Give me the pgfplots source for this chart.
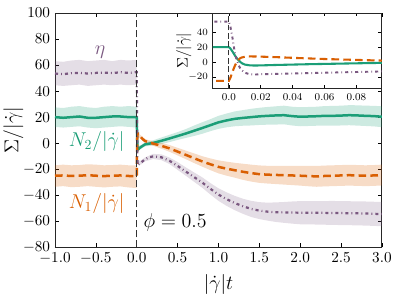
\documentclass[border=0pt]{standalone}
\usepackage{pgfplots}
\usepackage{pgfplotstable}
\pgfplotsset{compat=1.18}
\definecolor{cgreen}{RGB}{27,158,119}
\definecolor{corange}{RGB}{217,95,2}
\definecolor{cpurple}{RGB}{122,88,128}
\definecolor{cvline}{RGB}{50,50,50}

\pgfplotstableread{
t m
-1.0 20.0
-0.9 19.5
-0.8 20.0
-0.7 20.5
-0.6 19.5
-0.5 19.5
-0.4 20.0
-0.3 20.5
-0.2 20.5
-0.1 20.0
-0.01 20.0
0.0 20.0
0.001 18.0
0.002 15.0
0.003 11.5
0.004 8.0
0.005 5.0
0.006 2.5
0.007 0.5
0.008 -1.5
0.010 -3.5
0.013 -4.5
0.016 -4.8
0.02 -4.6
0.03 -4.0
0.04 -3.5
0.05 -3.0
0.06 -2.6
0.07 -2.2
0.08 -1.8
0.09 -1.4
0.10 -1.0
0.15 -0.4
0.2 0.2
0.3 1.8
0.4 3.6
0.5 5.5
0.6 7.4
0.7 9.5
0.8 11.6
0.9 13.8
1.0 16.0
1.1 17.5
1.2 18.7
1.3 19.4
1.4 20.0
1.5 20.6
1.6 21.0
1.7 21.3
1.8 21.5
1.9 20.8
2.0 20.3
2.1 20.5
2.2 20.7
2.3 21.0
2.4 21.0
2.5 21.2
2.6 21.5
2.7 21.3
2.8 21.0
2.9 20.8
3.0 20.3
}\greenline

\pgfplotstableread{
t m
-1.0 -25.0
-0.9 -24.8
-0.8 -25.2
-0.7 -25.0
-0.6 -24.6
-0.5 -25.0
-0.4 -25.3
-0.3 -25.0
-0.2 -24.8
-0.1 -25.2
-0.01 -25.5
0.0 -25.5
0.001 -21
0.002 -15
0.003 -9
0.004 -4
0.005 0
0.006 3
0.007 5
0.008 6
0.010 7
0.013 7.5
0.016 7.4
0.02 7.2
0.03 6.5
0.04 5.6
0.05 4.8
0.06 4.0
0.07 3.4
0.08 2.8
0.09 2.2
0.10 1.7
0.15 0.6
0.2 -0.3
0.3 -2.0
0.4 -4.0
0.5 -6.5
0.6 -9.0
0.7 -11.5
0.8 -14.0
0.9 -16.2
1.0 -18.2
1.1 -19.6
1.2 -20.8
1.3 -22.0
1.4 -23.0
1.5 -23.8
1.6 -24.2
1.7 -24.4
1.8 -24.6
1.9 -24.8
2.0 -25.0
2.1 -25.3
2.2 -25.5
2.3 -25.2
2.4 -25.0
2.5 -24.8
2.6 -24.6
2.7 -24.8
2.8 -25.0
2.9 -24.8
3.0 -24.5
}\orangeline

\pgfplotstableread{
t m
-1.0 53.5
-0.9 53.0
-0.8 53.8
-0.7 54.0
-0.6 53.5
-0.5 54.0
-0.4 54.2
-0.3 53.8
-0.2 54.5
-0.1 54.0
-0.01 54.5
0.0 54.5
0.001 47
0.002 36
0.003 22
0.004 10
0.005 2
0.006 -4
0.007 -8
0.008 -11
0.010 -14.5
0.013 -16.5
0.016 -17
0.02 -16.5
0.03 -16.0
0.04 -15.5
0.05 -15.0
0.06 -14.5
0.07 -14.0
0.08 -13.5
0.09 -13.0
0.10 -12.5
0.15 -10.8
0.2 -10.2
0.3 -10.8
0.4 -13.5
0.5 -17.5
0.6 -21.8
0.7 -26.0
0.8 -30.2
0.9 -35.0
1.0 -39.5
1.1 -43.0
1.2 -46.0
1.3 -48.5
1.4 -50.5
1.5 -51.8
1.6 -52.6
1.7 -53.0
1.8 -53.2
1.9 -53.3
2.0 -53.4
2.2 -53.5
2.4 -53.6
2.6 -53.8
2.8 -54.0
3.0 -54.5
}\purpleline

\tikzset{
  gline/.style={color=cgreen, line width=1.8pt},
  oline/.style={color=corange, line width=1.8pt, dash pattern=on 5.5pt off 3pt},
  pline/.style={color=cpurple, line width=1.6pt, dash pattern=on 2.2pt off 2.2pt on 0.6pt off 2.2pt},
}

\begin{document}
\begin{tikzpicture}
\path[use as bounding box] (0,0) rectangle (286.56pt,214.56pt);
\begin{axis}[
  name=main,
  at={(39.6pt,36.5pt)}, anchor=south west,
  scale only axis, width=235.4pt, height=168.7pt,
  xmin=-1, xmax=3, ymin=-80, ymax=100,
  xtick={-1,-0.5,0,0.5,1,1.5,2,2.5,3},
  ytick={-80,-60,-40,-20,0,20,40,60,80,100},
  xticklabel style={/pgf/number format/.cd, fixed, fixed zerofill, precision=1},
  tick label style={font=\fontsize{11}{13}\selectfont},
  major tick length=3pt,
  tick style={black, line width=0.5pt},
  axis line style={line width=0.7pt, black!85},
  every axis y label/.style={at={(axis description cs:-0.127,0.5)}, rotate=90, anchor=center},
  every axis x label/.style={at={(axis description cs:0.5,0)}, yshift=-27pt, anchor=center},
  ylabel={$\Sigma/|\dot\gamma|$},
  xlabel={$|\dot\gamma|t$},
  label style={font=\fontsize{15}{17}\selectfont},
]
% bands: upper edge forward, lower edge backward
\addplot[fill=cgreen, fill opacity=0.22, draw=none] coordinates {
(-1,27.5)(-0.9,27)(-0.8,28)(-0.7,28.5)(-0.6,27.5)(-0.5,27)(-0.4,28)(-0.3,28.5)(-0.2,28)(-0.1,28.5)(0,28)
(0,-2.5)(0.05,-1.5)(0.1,0.5)(0.2,2.2)(0.3,4.3)(0.4,6.4)(0.5,8.5)(0.6,10.8)(0.7,13.5)(0.8,16)(0.9,18.4)(1,21)(1.1,22.8)(1.2,24.4)(1.3,25.4)(1.4,26.4)(1.5,27.2)(1.6,27.8)(1.7,28.3)(1.8,28.8)(1.9,28)(2,27.6)(2.1,27.8)(2.2,28)(2.3,28.5)(2.4,28.6)(2.5,28.8)(2.6,29.2)(2.7,29.1)(2.8,28.8)(2.9,28.7)(3,28.3)
(3,12.3)(2.9,12.9)(2.8,13.2)(2.7,13.5)(2.6,13.8)(2.5,13.6)(2.4,13.4)(2.3,13.5)(2.2,13.4)(2.1,13.2)(2,13)(1.9,13.6)(1.8,14.5)(1.7,14.3)(1.6,14.2)(1.5,14)(1.4,13.6)(1.3,13.4)(1.2,13)(1.1,12.2)(1,11)(0.9,9.2)(0.8,7.2)(0.7,5.5)(0.6,4)(0.5,2.5)(0.4,0.8)(0.3,-0.7)(0.2,-1.8)(0.1,-2.5)(0.05,-4.5)(0,-5.5)
(0,12)(-0.1,12.5)(-0.2,13)(-0.3,12.5)(-0.4,12)(-0.5,11.5)(-0.6,12)(-0.7,13)(-0.8,12.5)(-0.9,12)(-1,12.5)
};
\addplot[fill=corange, fill opacity=0.22, draw=none] coordinates {
(-1,-17)(-0.9,-16.5)(-0.8,-17)(-0.7,-16.8)(-0.6,-16.2)(-0.5,-16.5)(-0.4,-17)(-0.3,-16.8)(-0.2,-16.5)(-0.1,-17)(0,-17)
(0,9)(0.05,6)(0.1,3.2)(0.2,1.4)(0.3,0.2)(0.4,-1.4)(0.5,-3.6)(0.6,-5.7)(0.7,-7.8)(0.8,-10)(0.9,-11.7)(1,-13.2)(1.1,-14.2)(1.2,-15.1)(1.3,-15.8)(1.4,-16.5)(1.5,-17.1)(1.6,-17.4)(1.7,-17.4)(1.8,-17.4)(1.9,-17.4)(2,-17.4)(2.1,-17.5)(2.2,-17.5)(2.3,-17.2)(2.4,-17)(2.5,-16.8)(2.6,-16.6)(2.7,-16.8)(2.8,-17)(2.9,-16.8)(3,-16.5)
(3,-32.5)(2.9,-32.8)(2.8,-33)(2.7,-32.8)(2.6,-32.6)(2.5,-32.8)(2.4,-33)(2.3,-33.2)(2.2,-33.5)(2.1,-33.1)(2,-32.6)(1.9,-32.2)(1.8,-31.8)(1.7,-31.4)(1.6,-31)(1.5,-30.5)(1.4,-29.5)(1.3,-28.2)(1.2,-26.5)(1.1,-25)(1,-23.2)(0.9,-20.7)(0.8,-18)(0.7,-15.2)(0.6,-12.3)(0.5,-9.4)(0.4,-6.6)(0.3,-4.2)(0.2,-2)(0.1,0.2)(0.05,3.5)(0,5.5)
(0,-34.5)(-0.1,-34)(-0.2,-33.2)(-0.3,-33.5)(-0.4,-34)(-0.5,-33.5)(-0.6,-33)(-0.7,-33.5)(-0.8,-33.8)(-0.9,-33)(-1,-33.5)
};
\addplot[fill=cpurple, fill opacity=0.2, draw=none] coordinates {
(-1,63)(-0.9,62.5)(-0.8,63.5)(-0.7,64)(-0.6,63)(-0.5,63.5)(-0.4,64)(-0.3,63)(-0.2,64)(-0.1,63.5)(0,64)
(0,-13)(0.05,-13.5)(0.1,-11)(0.2,-8.2)(0.3,-8.6)(0.4,-11)(0.5,-14.5)(0.6,-18.6)(0.7,-22.4)(0.8,-26.2)(0.9,-30.6)(1,-34.7)(1.1,-37.8)(1.2,-40.5)(1.3,-42.7)(1.4,-44.3)(1.5,-45.3)(1.6,-45.7)(1.7,-45.5)(1.8,-45.2)(1.9,-44.8)(2,-44.5)(2.2,-44.5)(2.4,-44.4)(2.6,-44.6)(2.8,-44.8)(3,-45.2)
(3,-63.8)(2.8,-63.3)(2.6,-63)(2.4,-62.8)(2.2,-62.5)(2,-62.3)(1.9,-61.8)(1.8,-61.2)(1.7,-60.5)(1.6,-59.5)(1.5,-58.3)(1.4,-56.7)(1.3,-54.3)(1.2,-51.5)(1.1,-48.2)(1,-44.3)(0.9,-39.4)(0.8,-34.2)(0.7,-29.6)(0.6,-25)(0.5,-20.5)(0.4,-16)(0.3,-13)(0.2,-12.2)(0.1,-14)(0.05,-16.5)(0,-16)
(0,45)(-0.1,44.5)(-0.2,45)(-0.3,44.5)(-0.4,45)(-0.5,44.5)(-0.6,44)(-0.7,45)(-0.8,44.5)(-0.9,44)(-1,44.5)
};
\addplot[gline] table[x=t, y=m]{\greenline};
\addplot[oline] table[x=t, y=m]{\orangeline};
\addplot[pline] table[x=t, y=m]{\purpleline};
\addplot[cvline, line width=0.9pt, dash pattern=on 5pt off 2.2pt] coordinates {(0,-80)(0,100)};
\node[text=cpurple, font=\fontsize{14}{16}\selectfont] at (axis cs:-0.45,70) {$\eta$};
\node[text=cgreen, font=\fontsize{14}{16}\selectfont] at (axis cs:-0.49,1) {$N_2/|\dot\gamma|$};
\node[text=corange, font=\fontsize{14}{16}\selectfont] at (axis cs:-0.49,-46) {$N_1/|\dot\gamma|$};
\node[text=black, font=\fontsize{14.5}{17}\selectfont] at (axis cs:0.47,-61.3) {$\phi = 0.5$};
\end{axis}
\begin{axis}[
  at={(main.north east)}, anchor=north east,
  scale only axis, width=121.7pt, height=54.5pt,
  xmin=-0.01, xmax=0.096, ymin=-36, ymax=66,
  xtick={0,0.02,0.04,0.06,0.08},
  xticklabels={0.0,0.02,0.04,0.06,0.08},
  ytick={-20,0,20,40},
  scaled x ticks=false,
  axis background/.style={fill=white},
  tick label style={font=\fontsize{7.5}{9}\selectfont},
  major tick length=2.5pt,
  tick style={black, line width=0.4pt},
  axis line style={line width=0.7pt, black!85},
  every axis y label/.style={at={(axis description cs:-0.172,0.5)}, rotate=90, anchor=center},
  ylabel={$\Sigma/|\dot\gamma|$},
  label style={font=\fontsize{11}{13}\selectfont},
]
\addplot[gline, line width=1.5pt] table[x=t, y=m]{\greenline};
\addplot[oline, line width=1.5pt] table[x=t, y=m]{\orangeline};
\addplot[pline, line width=1.4pt] table[x=t, y=m]{\purpleline};
\addplot[cvline, line width=0.8pt, dash pattern=on 4pt off 2pt] coordinates {(0,-36)(0,66)};
\end{axis}
\end{tikzpicture}
\end{document}
